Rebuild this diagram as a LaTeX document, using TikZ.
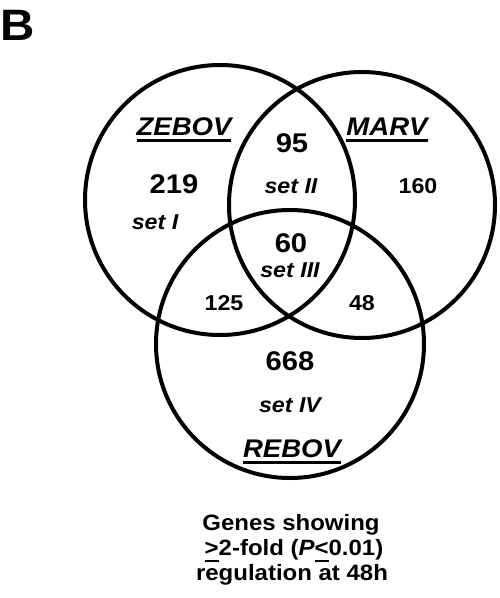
\documentclass[tikz,border=0pt]{standalone}
\usepackage{fontspec}
\setmainfont[FakeStretch=1.08]{Liberation Sans}
\newcommand{\ulx}[3]{\setbox0=\hbox{#1}\rlap{\rule[#2]{\wd0}{#3}}\box0\relax}
\begin{document}
\begin{tikzpicture}[x=1pt,y=-1pt,
  circ/.style={line width=4pt},
  lab/.style={font=\fontsize{25.5}{30}\selectfont\bfseries\itshape, anchor=base, inner sep=0pt},
  big/.style={font=\fontsize{27}{30}\selectfont\bfseries, anchor=base, inner sep=0pt},
  small/.style={font=\fontsize{21.5}{26}\selectfont\bfseries, anchor=base, inner sep=0pt},
  setl/.style={font=\fontsize{21.5}{26}\selectfont\bfseries\itshape, anchor=base, inner sep=0pt},
  capt/.style={font=\fontsize{22.2}{28}\selectfont\bfseries, anchor=base, inner sep=0pt},
  panel/.style={font=\fontsize{44}{50}\selectfont\bfseries, anchor=base, inner sep=0pt}]
\useasboundingbox (0,0) rectangle (500,598);
\fill[white] (0,0) rectangle (500,598);
% circles
\draw[circ] (220,200) circle[radius=135];
\draw[circ] (362,205) circle[radius=133];
\draw[circ] (290,344) circle[radius=134];
% panel letter
\node[panel] (B) at (18,40) {B};
% labels
\node[lab] (zebov) at (184,135) {\ulx{ZEBOV}{-7pt}{3pt}};
\node[lab] (marv) at (387,135) {\ulx{MARV}{-7pt}{3pt}};
\node[lab] (rebov) at (292,457) {\ulx{REBOV}{-7pt}{3pt}};
% counts
\node[big] (n219) at (174,193) {219};
\node[setl] (s1) at (155,229) {set I};
\node[big] (n95) at (292,152) {95};
\node[setl] (s2) at (291,193) {set II};
\node[small] (n160) at (418,193) {160};
\node[big] (n60) at (291,252) {60};
\node[setl] (s3) at (290,277) {set III};
\node[small] (n125) at (224,310) {125};
\node[small] (n48) at (362,310) {48};
\node[big] (n668) at (290,370) {668};
\node[setl] (s4) at (290,412) {set IV};
% caption
\node[capt] (c1) at (291,530) {Genes showing};
\node[capt] (c2) at (294,555) {\ulx{>}{-7pt}{2.5pt}2-fold (\textit{P}\ulx{<}{-7pt}{2.5pt}0.01)};
\node[capt] (c3) at (292,580) {regulation at 48h};
\end{tikzpicture}
\end{document}
